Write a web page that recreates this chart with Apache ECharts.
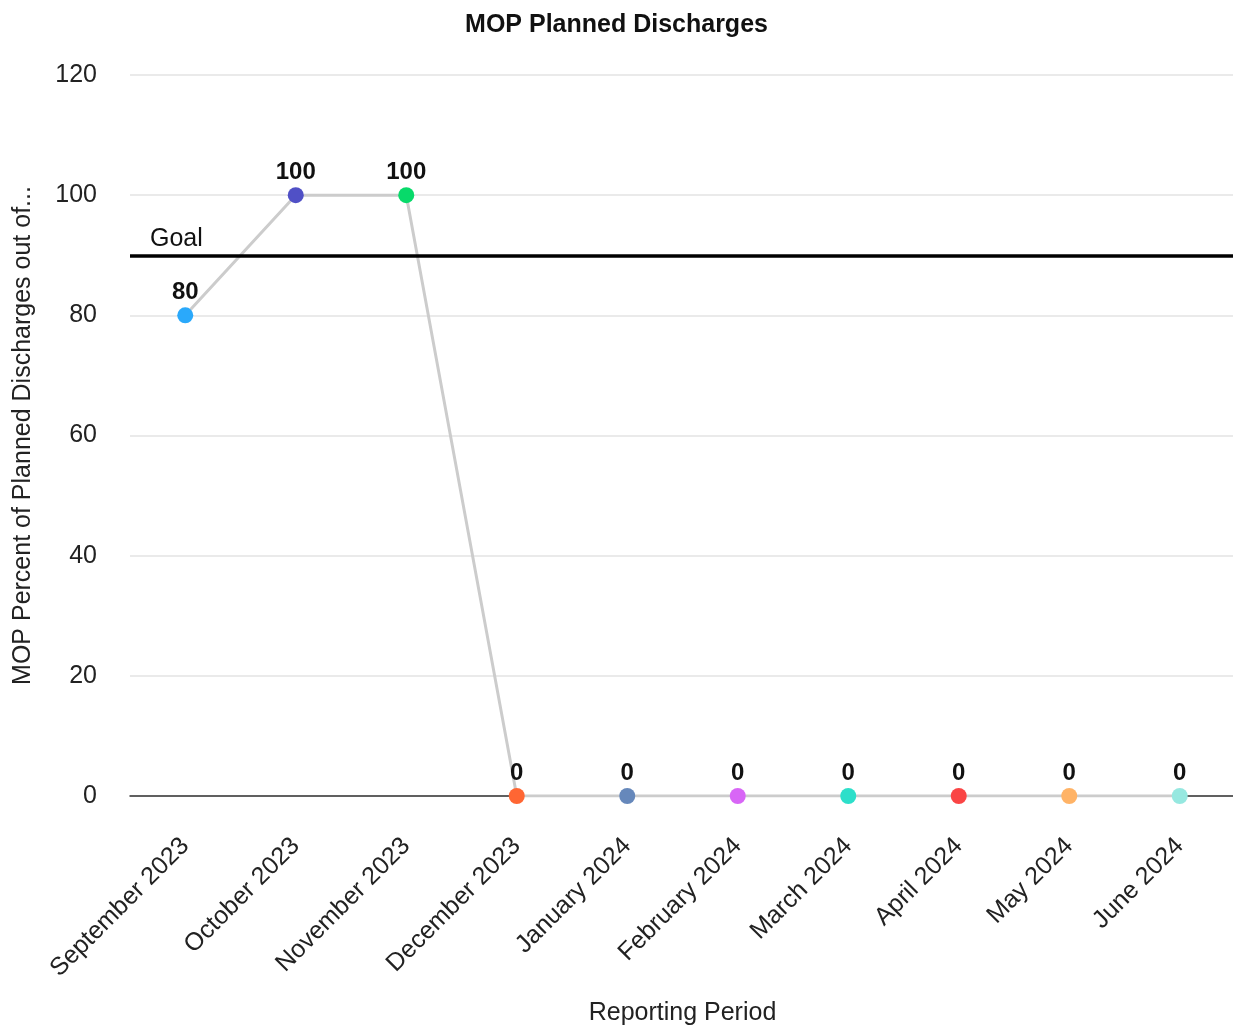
<!DOCTYPE html>
<html>
<head>
<meta charset="utf-8">
<title>MOP Planned Discharges</title>
<script src="https://cdn.jsdelivr.net/npm/echarts@6/dist/echarts.min.js"></script>
<style>
  html, body { margin: 0; padding: 0; background: #fff; }
  #chart { width: 1233px; height: 1026px; }
</style>
</head>
<body>
<div id="chart"></div>
<script>
// Reporting periods and the percentage of planned discharges for each
const periods = ['September 2023', 'October 2023', 'November 2023', 'December 2023',
  'January 2024', 'February 2024', 'March 2024', 'April 2024', 'May 2024', 'June 2024'];
const percentValues = [80, 100, 100, 0, 0, 0, 0, 0, 0, 0];
const pointColors = ['#2aa9fb', '#5050c6', '#08da6a', '#ff6633', '#6688bb',
  '#d866f6', '#2ddfca', '#fa4545', '#ffb366', '#96e8e0'];
const goalValue = 90;
const yTicks = [0, 20, 40, 60, 80, 100, 120];

const font = '"Liberation Sans", Arial, Helvetica, sans-serif';

const chart = echarts.init(document.getElementById('chart'));
chart.setOption({
  animation: false,
  textStyle: { fontFamily: font },
  title: {
    text: 'MOP Planned Discharges',
    left: 'center',
    top: 8,
    textStyle: { fontSize: 25, fontWeight: 'bold', color: '#111', fontFamily: font }
  },
  grid: {
    left: 130, top: 75, width: 1105, bottom: 230,
    containLabel: false,
    outerBoundsMode: 'none'
  },
  xAxis: {
    type: 'category',
    data: periods,
    boundaryGap: true,
    name: 'Reporting Period',
    nameLocation: 'middle',
    nameGap: 205,
    nameTextStyle: { fontSize: 25, color: '#222', fontFamily: font },
    axisLine: { show: true, lineStyle: { color: '#333', width: 1.5 } },
    axisTick: { show: false },
    axisLabel: { rotate: 45, fontSize: 25, color: '#222', margin: 46, fontFamily: font }
  },
  yAxis: {
    type: 'value',
    min: yTicks[0],
    max: yTicks[yTicks.length - 1],
    interval: 20,
    name: 'MOP Percent of Planned Discharges out of...',
    nameLocation: 'middle',
    nameGap: 94,
    nameTextStyle: { fontSize: 25, color: '#222', fontFamily: font },
    axisLine: { show: false },
    axisTick: { show: false },
    axisLabel: { fontSize: 25, color: '#222', margin: 33, fontFamily: font },
    splitLine: { lineStyle: { color: '#e3e3e3', width: 1.5 } }
  },
  series: [{
    type: 'line',
    data: percentValues.map((v, i) => ({ value: v, itemStyle: { color: pointColors[i] } })),
    symbol: 'circle',
    symbolSize: 16,
    lineStyle: { color: '#cccccc', width: 3 },
    itemStyle: { borderWidth: 0 },
    label: {
      show: true,
      position: 'top',
      distance: 3,
      fontSize: 24,
      fontWeight: 'bold',
      color: '#111',
      fontFamily: font
    },
    markLine: {
      silent: true,
      symbol: 'none',
      lineStyle: { color: '#000', width: 3.5, type: 'solid' },
      label: {
        show: true,
        position: 'insideStartTop',
        formatter: 'Goal',
        fontSize: 25,
        color: '#111',
        distance: [20, 4],
        fontFamily: font
      },
      data: [{ yAxis: goalValue }]
    },
    z: 3
  }]
});
</script>
</body>
</html>
